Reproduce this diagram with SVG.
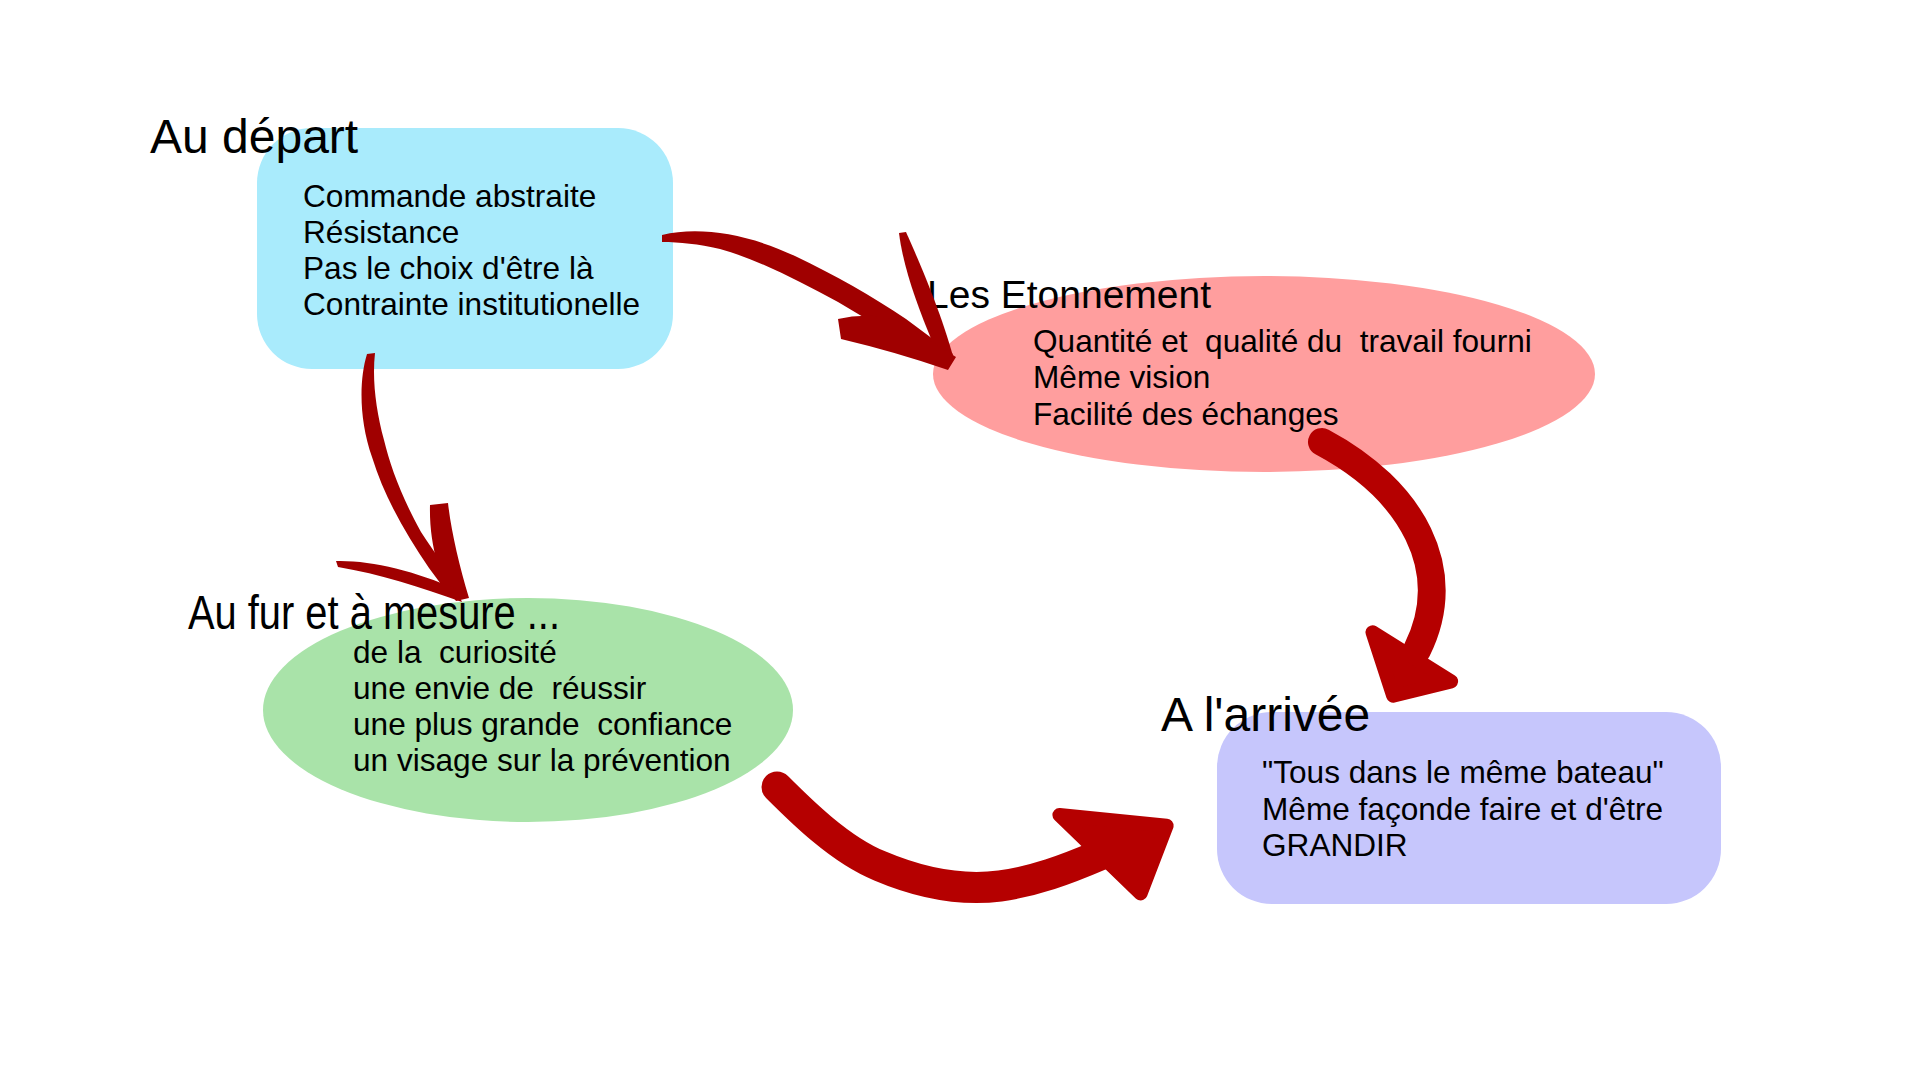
<svg xmlns="http://www.w3.org/2000/svg" width="1920" height="1080" viewBox="0 0 1920 1080">
<style>
  text { font-family: "Liberation Sans", Arial, sans-serif; fill: #000; }
  .title { font-size: 48px; }
  .sub { font-size: 39px; }
  .body { font-size: 31.6px; }
  .brush { fill: #A00000; stroke: none; }
  .bigshaft { fill: none; stroke: #B50000; stroke-linecap: round; }
  .bighead { fill: #B50000; stroke: #B50000; stroke-width: 14; stroke-linejoin: round; }
</style>
<rect x="0" y="0" width="1920" height="1080" fill="#FFFFFF"/>

<g id="node-depart">
  <rect x="257" y="128" width="416" height="241" rx="55" ry="55" fill="#A9EBFC"/>
  <text class="title" x="150" y="153">Au départ</text>
  <text class="body" x="303" y="207">Commande abstraite</text>
  <text class="body" x="303" y="243">Résistance</text>
  <text class="body" x="303" y="279">Pas le choix d'être là</text>
  <text class="body" x="303" y="315">Contrainte institutionelle</text>
</g>

<g id="node-etonnement">
  <ellipse cx="1264" cy="374" rx="331" ry="98" fill="#FF9E9E"/>
  <text class="sub" x="927" y="308">Les Etonnement</text>
  <text class="body" x="1033" y="352" xml:space="preserve">Quantité et  qualité du  travail fourni</text>
  <text class="body" x="1033" y="388">Même vision</text>
  <text class="body" x="1033" y="425">Facilité des échanges</text>
</g>

<g id="node-mesure">
  <ellipse cx="528" cy="710" rx="265" ry="112" fill="#A9E3A9"/>
  <text class="title" x="188" y="629" textLength="372" lengthAdjust="spacingAndGlyphs">Au fur et à mesure ...</text>
  <text class="body" x="353" y="663" xml:space="preserve">de la  curiosité</text>
  <text class="body" x="353" y="699" xml:space="preserve">une envie de  réussir</text>
  <text class="body" x="353" y="735" xml:space="preserve">une plus grande  confiance</text>
  <text class="body" x="353" y="771">un visage sur la prévention</text>
</g>

<g id="node-arrivee">
  <rect x="1217" y="712" width="504" height="192" rx="55" ry="55" fill="#C6C6FC"/>
  <text class="title" x="1161" y="731">A l'arrivée</text>
  <text class="body" x="1262" y="783">"Tous dans le même bateau"</text>
  <text class="body" x="1262" y="820">Même façonde faire et d'être</text>
  <text class="body" x="1262" y="856">GRANDIR</text>
</g>

<g id="connectors">
  <g id="edge-depart-etonnement">
    <path class="brush" d="M662,235 C700,226 748,234 795,256 C835,275 872,296 906,319 L953,354 L946,368 C912,347 872,322 838,302 C800,282 760,260 720,249 C698,244 680,242 662,242 Z"/>
    <path class="brush" d="M899,233 C903,266 917,306 935,348 L954,360 C946,330 932,290 906,232 Z"/>
    <path class="brush" d="M838,319 Q868,312 897,320 L956,357 L948,370 Q896,352 841,339 Z"/>
  </g>
  <g id="edge-depart-mesure">
    <path class="brush" d="M367,354 C359,380 359,420 372,457 C384,496 404,531 429,568 L449,595 L465,596 C451,575 436,555 421,532 C401,496 390,465 384,440 C376,410 372,380 375,353 Z"/>
    <path class="brush" d="M430,505 L448,503 C451,530 459,565 469,598 L456,601 C440,580 429,545 430,505 Z"/>
    <path class="brush" d="M336,561 C370,560 415,571 456,589 L462,602 C420,587 380,574 338,567 Z"/>
  </g>
  <g id="edge-etonnement-arrivee">
    <path class="bigshaft" stroke-width="28" d="M1322,442 C1412,490 1457,570 1417,650"/>
    <polygon class="bighead" points="1372.5,632.3 1451.2,681.4 1393.1,695.7"/>
  </g>
  <g id="edge-mesure-arrivee">
    <path class="bigshaft" stroke-width="31" d="M777,787 C800,810 840,850 880,866 C920,883 960,891 1000,886 C1035,881 1065,870 1100,855"/>
    <polygon class="bighead" points="1059.4,815 1166.6,825.8 1140.6,893.4"/>
  </g>
</g>
</svg>
